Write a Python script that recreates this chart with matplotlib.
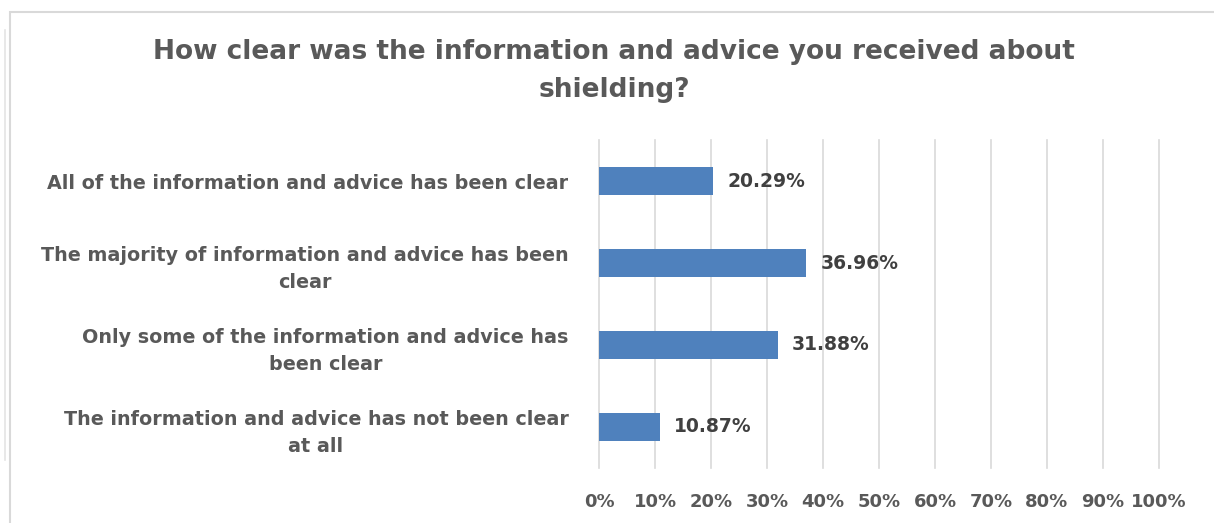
import matplotlib
matplotlib.use("Agg")
import matplotlib.pyplot as plt
from matplotlib.patches import Rectangle

categories = [
    "All of the information and advice has been clear",
    "The majority of information and advice has been\nclear",
    "Only some of the information and advice has\nbeen clear",
    "The information and advice has not been clear\nat all",
]
values = [20.29, 36.96, 31.88, 10.87]
ticks = list(range(0, 101, 10))

W, H = 1214, 523
fig = plt.figure(figsize=(W / 100, H / 100), dpi=100)

# chart frame
fig.patches.append(Rectangle((10 / W, -0.01), 1.02 - 10 / W, 1 - 12 / H + 0.01,
                             transform=fig.transFigure, fill=False,
                             edgecolor="#D9D9D9", linewidth=1.5))
fig.add_artist(plt.Line2D([5 / W, 5 / W], [1 - 460 / H, 1 - 30 / H],
                          transform=fig.transFigure, color="#E4E4E4", linewidth=1.2))

ax = fig.add_axes([599 / W, 1 - 468 / H, 560 / W, 328 / H])
y = list(range(len(categories)))
ax.barh(y, values, height=0.35, color="#4F81BD", zorder=3)
ax.set_ylim(len(categories) - 0.5, -0.5)
ax.set_xlim(0, 100)

ax.set_xticks(ticks)
ax.set_xticklabels([f"{t}%" for t in ticks])
ax.set_yticks(y)
ax.set_yticklabels(categories, multialignment="center", linespacing=1.55)
ax.tick_params(axis="both", length=0, labelcolor="#595959", labelsize=13)
ax.tick_params(axis="y", labelsize=13.8, pad=22)
ax.tick_params(axis="x", pad=18)
for lbl in ax.get_xticklabels() + ax.get_yticklabels():
    lbl.set_fontweight("bold")

# vertical gridlines, including both ends of the scale
for t in ticks:
    ax.axvline(t, color="#D9D9D9", linewidth=1.2, zorder=0, clip_on=False)
for s in ax.spines.values():
    s.set_visible(False)

for yi, v in zip(y, values):
    ax.text(v + 2.6, yi, f"{v:.2f}%", va="center", ha="left",
            fontsize=13.5, fontweight="bold", color="#404040")

fig.text(614 / W, 1 - 71 / H, "How clear was the information and advice you received about\nshielding?",
         ha="center", va="center", fontsize=19, fontweight="bold",
         color="#595959", linespacing=1.6)

fig.savefig("out.png", dpi=100)
